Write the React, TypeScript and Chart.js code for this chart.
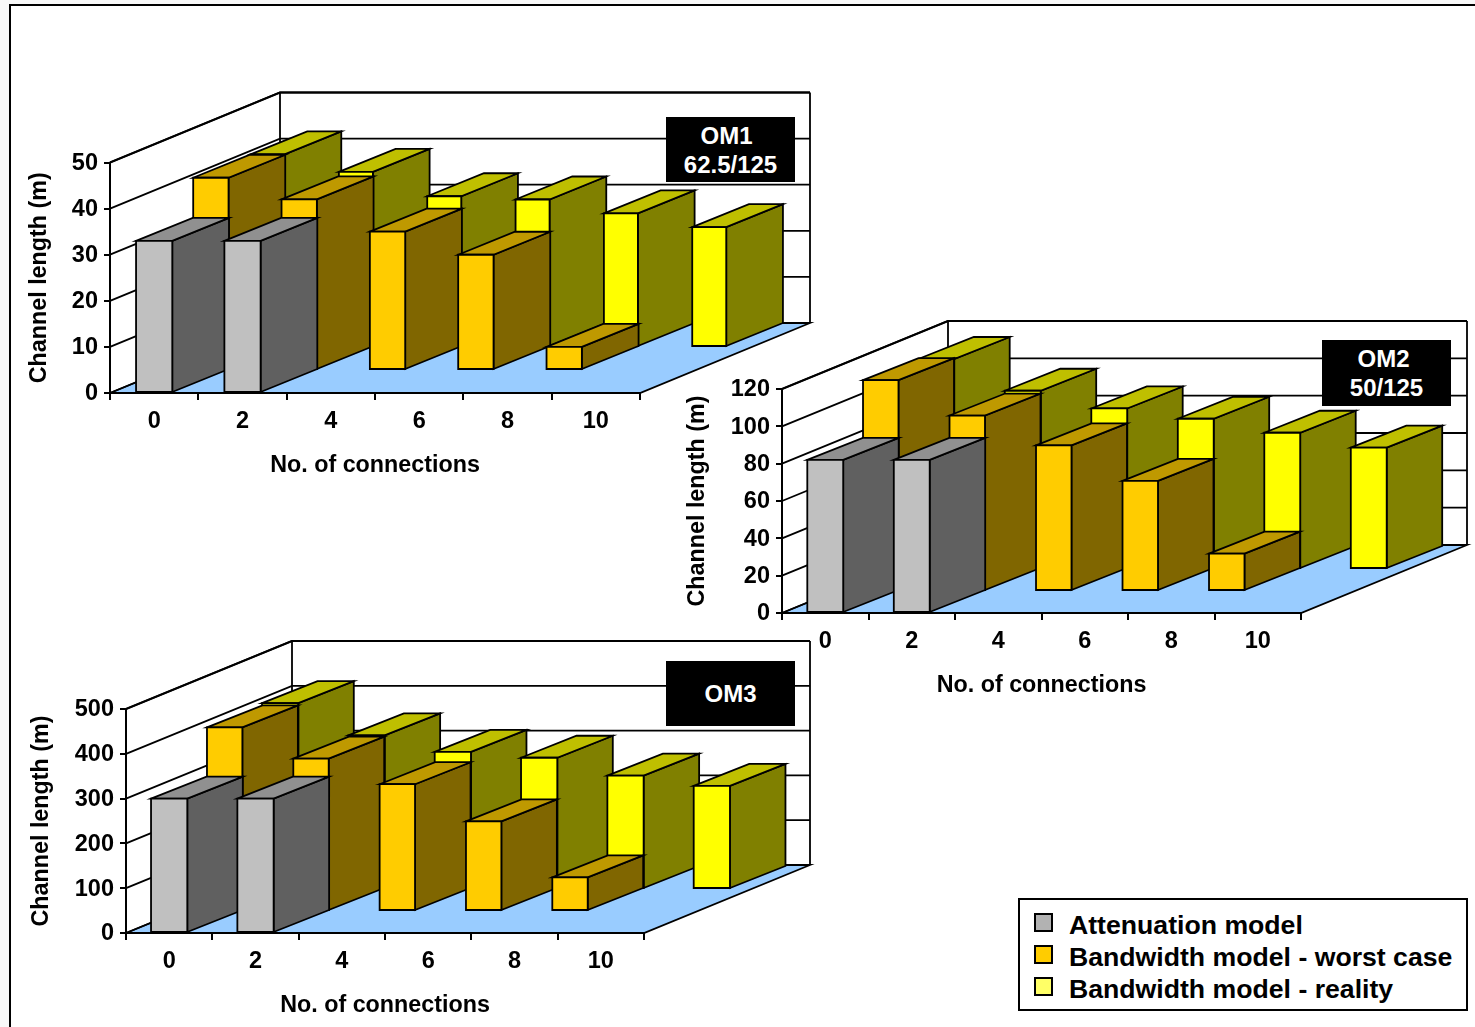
import React, { useEffect, useRef } from "react";
import { Chart, registerables } from "chart.js";

Chart.register(...registerables);

const PAGE_W = 1475;
const PAGE_H = 1027;
const FONT = "'Liberation Sans', Arial, sans-serif";

const connections = ["0", "2", "4", "6", "8", "10"];
const seriesNames = ["Attenuation model", "Bandwidth model - worst case", "Bandwidth model - reality"];

const om1Attenuation = [33, 33, null, null, null, null];
const om1Worst = [41.7, 37, 30, 25, 5, null];
const om1Reality = [41.8, 38, 32.7, 32, 29, 26];

const om2Attenuation = [82, 82, null, null, null, null];
const om2Worst = [113, 94, 78, 59, 20, null];
const om2Reality = [112.5, 95.5, 86, 80.5, 73, 65];

const om3Attenuation = [300, 300, null, null, null, null];
const om3Worst = [410, 340, 283, 200, 75, null];
const om3Reality = [415, 343, 306, 293, 253, 230];

// front, top and side face colours of each series
const faces = [
  { front: "#C0C0C0", top: "#909090", side: "#606060" },
  { front: "#FFCC00", top: "#BF9900", side: "#806600" },
  { front: "#FFFF00", top: "#BFBF00", side: "#808000" },
];
const legendSwatches = ["#B2B2B2", "#FFCC00", "#FFFF66"];

type Frame = {
  values: (number | null)[][];
  widths: number[];
  max: number;
  step: number;
  left: number;
  right: number;
  top: number;
  bottom: number;
  depthX: number;
  depthY: number;
  rowRun: number;
  rowRise: number;
  titleX: number;
  titleY: number;
};

const frames: Frame[] = [
  { values: [om1Attenuation, om1Worst, om1Reality], widths: [0.41, 0.4, 0.385], max: 50, step: 10, left: 110, right: 640, top: 162.5, bottom: 393, depthX: 170, depthY: 70, rowRun: 56.7, rowRise: 23, titleX: 40, titleY: 466 },
  { values: [om2Attenuation, om2Worst, om2Reality], widths: [0.415, 0.41, 0.415], max: 120, step: 20, left: 782, right: 1301, top: 389, bottom: 613, depthX: 166, depthY: 68, rowRun: 55.5, rowRise: 22, titleX: 698, titleY: 686 },
  { values: [om3Attenuation, om3Worst, om3Reality], widths: [0.42, 0.41, 0.42], max: 500, step: 100, left: 126, right: 644, top: 709, bottom: 933, depthX: 166, depthY: 68, rowRun: 55.5, rowRise: 22, titleX: 42, titleY: 1006 },
];

const captions = [
  { lines: ["OM1", "62.5/125"], shift: [-4, 0], x: 666, y: 117, w: 129, h: 65 },
  { lines: ["OM2", "50/125"], shift: [-3, 0], x: 1322, y: 340, w: 129, h: 66 },
  { lines: ["OM3"], shift: [0], x: 666, y: 661, w: 129, h: 65 },
];

function polygon(ctx: CanvasRenderingContext2D, pts: number[][], fill?: string) {
  ctx.beginPath();
  pts.forEach(([x, y], i) => (i ? ctx.lineTo(x, y) : ctx.moveTo(x, y)));
  ctx.closePath();
  if (fill) {
    ctx.fillStyle = fill;
    ctx.fill();
  }
  ctx.stroke();
}

// Perspective walls and floor behind the columns, hung off the value scale
function wallsPlugin(f: Frame) {
  return {
    id: "walls",
    beforeDatasetsDraw(chart: any) {
      const { ctx, chartArea: a, scales } = chart;
      const dx = f.depthX;
      const dy = f.depthY;
      ctx.save();
      ctx.strokeStyle = "#000";
      ctx.lineWidth = 1.8;
      ctx.lineJoin = "miter";
      polygon(ctx, [[a.left, a.bottom], [a.right, a.bottom], [a.right + dx, a.bottom - dy], [a.left + dx, a.bottom - dy]], "#99CCFF");
      for (const tick of scales.y.ticks) {
        const y = scales.y.getPixelForValue(tick.value);
        ctx.beginPath();
        ctx.moveTo(a.left, y);
        ctx.lineTo(a.left + dx, y - dy);
        ctx.lineTo(a.right + dx, y - dy);
        ctx.stroke();
      }
      ctx.lineWidth = 2.2;
      ctx.beginPath();
      ctx.moveTo(a.left, a.top);
      ctx.lineTo(a.left + dx, a.top - dy);
      ctx.lineTo(a.right + dx, a.top - dy);
      ctx.stroke();
      ctx.lineWidth = 1.8;
      ctx.beginPath();
      ctx.moveTo(a.left + dx, a.top - dy);
      ctx.lineTo(a.left + dx, a.bottom - dy);
      ctx.moveTo(a.right + dx, a.top - dy);
      ctx.lineTo(a.right + dx, a.bottom - dy);
      ctx.stroke();
      ctx.restore();
    },
  };
}

// Each dataset sits in its own depth row; the back row is painted first
function columnsPlugin(f: Frame) {
  return {
    id: "columns",
    beforeDatasetsDraw(chart: any) {
      const ctx = chart.ctx;
      const rows = chart.data.datasets.length;
      const sx = f.rowRun;
      const sy = f.rowRise;
      ctx.save();
      ctx.strokeStyle = "#000";
      ctx.lineWidth = 1.8;
      ctx.lineJoin = "miter";
      for (let r = rows - 1; r >= 0; r--) {
        const meta = chart.getDatasetMeta(r);
        const c = faces[r];
        meta.data.forEach((bar: any, i: number) => {
          if (chart.data.datasets[r].data[i] == null) return;
          const { x, y, base, width } = bar.getProps(["x", "y", "base", "width"], true);
          const x0 = x - width / 2 + sx * r;
          const x1 = x + width / 2 + sx * r;
          const yt = y - sy * r;
          const yb = base - sy * r;
          polygon(ctx, [[x1, yt], [x1 + sx, yt - sy], [x1 + sx, yb - sy], [x1, yb]], c.side);
          polygon(ctx, [[x0, yt], [x0 + sx, yt - sy], [x1 + sx, yt - sy], [x1, yt]], c.top);
          polygon(ctx, [[x0, yt], [x1, yt], [x1, yb], [x0, yb]], c.front);
        });
      }
      ctx.restore();
      return false;
    },
  };
}

function Panel({ frame: f }: { frame: Frame }) {
  const ref = useRef<HTMLCanvasElement>(null);
  useEffect(() => {
    const titleFont = { family: FONT, size: 23.3, weight: "bold" as const, lineHeight: 1.2 };
    const tickFont = { family: FONT, size: 23.5, weight: "bold" as const };
    const chart = new Chart(ref.current!, {
      type: "bar",
      data: {
        labels: connections,
        datasets: f.values.map((data, i) => ({
          label: seriesNames[i],
          data,
          backgroundColor: faces[i].front,
          grouped: false,
          categoryPercentage: 1,
          barPercentage: f.widths[i],
        })),
      },
      options: {
        responsive: false,
        animation: false,
        events: [],
        layout: { padding: { left: 0, top: f.top, right: PAGE_W - f.right, bottom: 0 } },
        plugins: { legend: { display: false }, tooltip: { enabled: false } },
        scales: {
          x: {
            afterFit: (s: any) => { s.height = PAGE_H - f.bottom; },
            border: { display: true, color: "#000", width: 2 },
            grid: { drawOnChartArea: false, color: "#000", lineWidth: 2, tickLength: 7 },
            ticks: { color: "#000", font: tickFont, padding: 7, maxRotation: 0 },
            title: {
              display: true,
              text: "No. of connections",
              color: "#000",
              font: titleFont,
              padding: { top: 0, bottom: PAGE_H - f.titleY - 14 },
            },
          },
          y: {
            min: 0,
            max: f.max,
            afterFit: (s: any) => { s.width = f.left; },
            border: { display: true, color: "#000", width: 2 },
            grid: { drawOnChartArea: false, color: "#000", lineWidth: 2, tickLength: 6 },
            ticks: { stepSize: f.step, color: "#000", font: tickFont, padding: 6, labelOffset: 1 },
            title: {
              display: true,
              text: "Channel length (m)",
              color: "#000",
              font: titleFont,
              padding: { top: f.titleX - 14, bottom: 0 },
            },
          },
        },
      },
      plugins: [wallsPlugin(f), columnsPlugin(f)],
    } as any);
    return () => chart.destroy();
  }, [f]);
  return <canvas ref={ref} width={PAGE_W} height={PAGE_H} style={{ position: "absolute", left: 0, top: 0 }} />;
}

export default function App() {
  return (
    <div style={{ position: "absolute", left: 0, top: 0, width: PAGE_W, height: PAGE_H, overflow: "hidden", background: "#F8F8F8", fontFamily: FONT, fontWeight: "bold", color: "#000" }}>
      <div style={{ position: "absolute", left: 9, top: 4, right: -4, bottom: -4, borderLeft: "2px solid #000", borderTop: "2px solid #000", background: "#fff" }} />
      {frames.map((f, i) => <Panel key={i} frame={f} />)}
      {captions.map((c) => (
        <div key={c.lines[0]} style={{ position: "absolute", left: c.x, top: c.y, width: c.w, height: c.h, background: "#000", color: "#fff", display: "flex", flexDirection: "column", justifyContent: "center", alignItems: "center", fontSize: 24, lineHeight: "29px" }}>
          {c.lines.map((l, i) => <div key={l} style={{ position: "relative", left: c.shift[i] }}>{l}</div>)}
        </div>
      ))}
      <div style={{ position: "absolute", left: 1018, top: 898, width: 446, height: 109, border: "2px solid #000", background: "#fff" }}>
        {seriesNames.map((name, i) => (
          <div key={name} style={{ position: "absolute", left: 0, top: 10 + i * 32, height: 32, whiteSpace: "nowrap", fontSize: 26.65, lineHeight: "30px" }}>
            <span style={{ position: "absolute", left: 14, top: 3, width: 15, height: 15, border: "2px solid #000", background: legendSwatches[i] }} />
            <span style={{ position: "absolute", left: 49, top: 0 }}>{name}</span>
          </div>
        ))}
      </div>
    </div>
  );
}
